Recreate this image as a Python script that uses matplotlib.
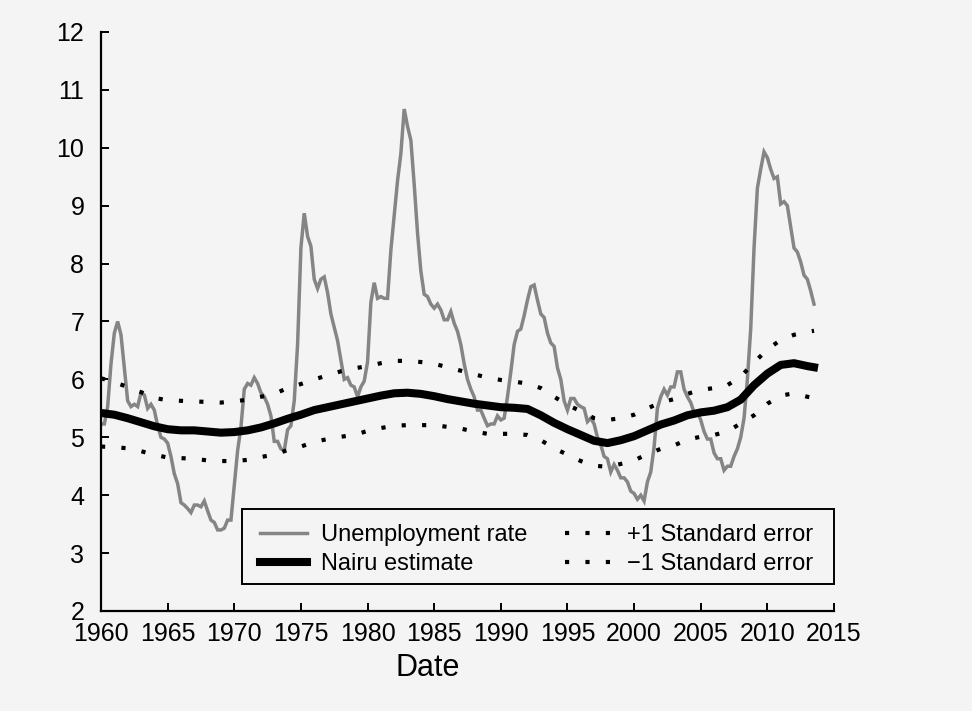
import numpy as np
import matplotlib
matplotlib.use('Agg')
import matplotlib.pyplot as plt
from matplotlib.patches import Rectangle

# quarterly unemployment rate, 1960Q1 - 2013Q3
unemp_start = 1960
unemployment = [
    5.23, 5.23, 5.53, 6.27,
    6.80, 7.00, 6.77, 6.20,
    5.63, 5.53, 5.57, 5.53,
    5.77, 5.73, 5.50, 5.57,
    5.47, 5.20, 5.00, 4.97,
    4.90, 4.67, 4.37, 4.20,
    3.87, 3.83, 3.77, 3.70,
    3.83, 3.83, 3.80, 3.90,
    3.73, 3.57, 3.53, 3.40,
    3.40, 3.43, 3.57, 3.57,
    4.17, 4.77, 5.17, 5.83,
    5.93, 5.90, 6.03, 5.93,
    5.77, 5.70, 5.57, 5.37,
    4.93, 4.93, 4.80, 4.77,
    5.13, 5.20, 5.63, 6.60,
    8.27, 8.87, 8.47, 8.30,
    7.73, 7.57, 7.73, 7.77,
    7.50, 7.13, 6.90, 6.67,
    6.33, 6.00, 6.03, 5.90,
    5.87, 5.70, 5.87, 5.97,
    6.30, 7.33, 7.67, 7.40,
    7.43, 7.40, 7.40, 8.23,
    8.83, 9.43, 9.90, 10.67,
    10.37, 10.13, 9.37, 8.53,
    7.87, 7.47, 7.43, 7.30,
    7.23, 7.30, 7.20, 7.03,
    7.03, 7.17, 6.97, 6.83,
    6.60, 6.27, 6.00, 5.83,
    5.70, 5.47, 5.47, 5.33,
    5.20, 5.23, 5.23, 5.37,
    5.30, 5.33, 5.70, 6.13,
    6.60, 6.83, 6.87, 7.10,
    7.37, 7.60, 7.63, 7.37,
    7.13, 7.07, 6.80, 6.63,
    6.57, 6.20, 6.00, 5.63,
    5.47, 5.67, 5.67, 5.57,
    5.53, 5.50, 5.27, 5.33,
    5.23, 5.00, 4.87, 4.67,
    4.63, 4.40, 4.53, 4.43,
    4.30, 4.30, 4.23, 4.07,
    4.03, 3.93, 4.00, 3.90,
    4.23, 4.40, 4.83, 5.50,
    5.70, 5.83, 5.73, 5.87,
    5.87, 6.13, 6.13, 5.83,
    5.70, 5.60, 5.43, 5.43,
    5.30, 5.10, 4.97, 4.97,
    4.73, 4.63, 4.63, 4.43,
    4.50, 4.50, 4.67, 4.80,
    5.00, 5.33, 6.00, 6.87,
    8.27, 9.30, 9.63, 9.93,
    9.83, 9.63, 9.47, 9.50,
    9.03, 9.07, 9.00, 8.63,
    8.27, 8.20, 8.03, 7.80,
    7.73, 7.53, 7.30,
]

# yearly nairu estimate and +/- 1 s.e. bands, 1960 - 2013 (+ end point)
band_years = list(range(1960, 2014)) + [2013.5]
nairu = [
    5.42, 5.39, 5.33, 5.26, 5.19, 5.14, 5.12, 5.12, 5.10, 5.08,
    5.09, 5.12, 5.17, 5.24, 5.32, 5.39, 5.47, 5.52, 5.57, 5.62,
    5.67, 5.72, 5.76, 5.77, 5.75, 5.71, 5.66, 5.62, 5.58, 5.55,
    5.52, 5.51, 5.49, 5.38, 5.25, 5.14, 5.04, 4.94, 4.90, 4.95,
    5.02, 5.12, 5.22, 5.29, 5.38, 5.43, 5.46, 5.52, 5.65, 5.90,
    6.10, 6.25, 6.28, 6.23, 6.21,
]
se_upper = [
    6.02, 5.95, 5.87, 5.78, 5.68, 5.64, 5.63, 5.62, 5.61, 5.60,
    5.62, 5.65, 5.70, 5.75, 5.85, 5.92, 6.00, 6.07, 6.14, 6.19,
    6.23, 6.28, 6.32, 6.32, 6.30, 6.27, 6.21, 6.15, 6.09, 6.03,
    5.99, 5.96, 5.93, 5.85, 5.70, 5.56, 5.45, 5.33, 5.30, 5.33,
    5.39, 5.50, 5.60, 5.66, 5.75, 5.82, 5.85, 5.90, 6.05, 6.29,
    6.52, 6.68, 6.77, 6.82, 6.84,
]
se_lower = [
    4.84, 4.83, 4.81, 4.76, 4.70, 4.65, 4.64, 4.63, 4.60, 4.59,
    4.59, 4.61, 4.66, 4.70, 4.78, 4.84, 4.92, 4.97, 5.01, 5.04,
    5.11, 5.16, 5.20, 5.21, 5.21, 5.21, 5.18, 5.15, 5.10, 5.06,
    5.06, 5.06, 5.04, 4.95, 4.81, 4.70, 4.59, 4.51, 4.49, 4.54,
    4.60, 4.71, 4.80, 4.86, 4.96, 5.01, 5.04, 5.10, 5.24, 5.38,
    5.58, 5.72, 5.76, 5.70, 5.68,
]

x_ticks = list(range(1960, 2016, 5))
y_ticks = list(range(2, 13))

bg = '#f4f4f4'
plt.rcParams['font.family'] = ['Liberation Sans', 'DejaVu Sans']

fig = plt.figure(figsize=(9.72, 7.11), dpi=100, facecolor=bg)
ax = fig.add_axes([101 / 972, 1 - 611 / 711, 733 / 972, 579 / 711])
ax.set_facecolor(bg)

unemp_x = unemp_start + np.arange(len(unemployment)) / 4.0
dots = (0, (1, 3.9))

l1, = ax.plot(unemp_x, unemployment, color='#858585', lw=2.5,
              solid_joinstyle='miter', label='Unemployment rate')
l2, = ax.plot(band_years, nairu, color='black', lw=5.8, label='Nairu estimate')
l3, = ax.plot(band_years, se_upper, color='black', lw=3, linestyle=dots,
              label='+1 Standard error')
l4, = ax.plot(band_years, se_lower, color='black', lw=3, linestyle=dots,
              label='\u22121 Standard error')

ax.set_xlim(1960, 2015)
ax.set_ylim(2, 12)
ax.set_xticks(x_ticks)
ax.set_yticks(y_ticks)
for s in ['top', 'right']:
    ax.spines[s].set_visible(False)
for s in ['left', 'bottom']:
    ax.spines[s].set_linewidth(1.6)
ax.tick_params(direction='in', length=6, width=1.4, labelsize=18, colors='black')
ax.tick_params(axis='y', pad=12)
ax.tick_params(axis='x', pad=8)

ax.set_xlabel('Date', fontsize=22)
ax.xaxis.set_label_coords((428 - 101) / 733, -0.073)

# legend box drawn separately so its edges sit where the original's do
ax.add_patch(Rectangle((141 / 733, 27 / 579), 592 / 733, 75 / 579, transform=ax.transAxes,
                       fill=False, edgecolor='black', lw=1.4, clip_on=False, zorder=5))
ax.legend(handles=[l1, l2, l3, l4], ncol=2, frameon=False, mode='expand',
          loc='lower left', bbox_to_anchor=((260 - 101) / 733, (611 - 575) / 579, 553 / 733, 0.1),
          borderaxespad=0, borderpad=0, fontsize=17, handlelength=2.0,
          handletextpad=0.6, labelspacing=0.3)

fig.savefig('out.png', dpi=100, facecolor=bg)
